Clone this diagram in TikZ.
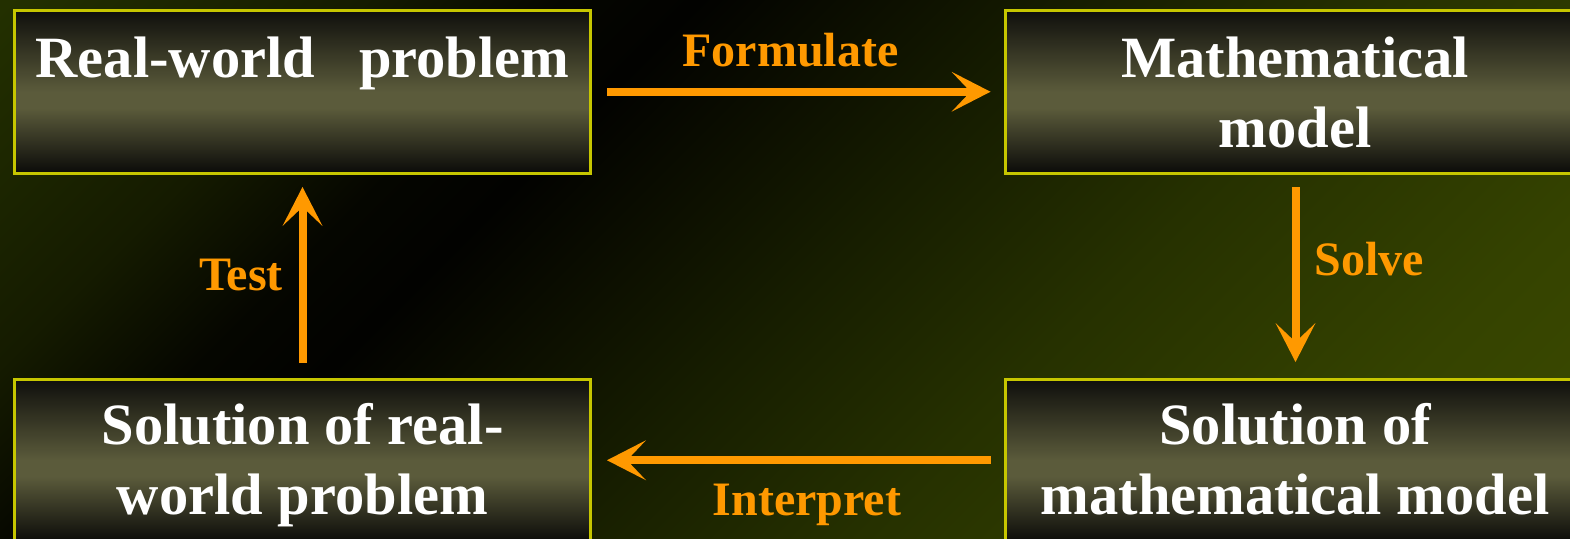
\documentclass[tikz,border=0pt]{standalone}
\usepackage{fontspec}
\setmainfont{Liberation Serif}
\usetikzlibrary{arrows.meta}

% backdrop colours, along the top-left to bottom-right diagonal
\definecolor{bgA}{HTML}{233000}
\definecolor{bgB}{HTML}{151B00}
\definecolor{bgC}{HTML}{050600}
\definecolor{bgK}{HTML}{020200}
\definecolor{bgD}{HTML}{0D1000}
\definecolor{bgE}{HTML}{171E00}
\definecolor{bgF}{HTML}{263100}
\definecolor{bgG}{HTML}{354300}
\definecolor{bgH}{HTML}{3C4B00}
% box fill and trim
\definecolor{boxT}{HTML}{0F0F0C}
\definecolor{boxM}{HTML}{5B5B3B}
\definecolor{boxB}{HTML}{0B0B09}
\definecolor{rim}{HTML}{C6C600}
\definecolor{amber}{HTML}{FF9900}

\pgfdeclarehorizontalshading{backdrop}{100bp}{%
  color(0bp)=(bgA); color(26.3bp)=(bgA); color(34.4bp)=(bgB);
  color(38.9bp)=(bgC); color(42bp)=(bgK); color(46.5bp)=(bgD);
  color(51bp)=(bgE); color(57.8bp)=(bgF); color(66.8bp)=(bgG);
  color(73.7bp)=(bgH); color(100bp)=(bgH)}
\pgfdeclareverticalshading{boxfill}{100bp}{%
  color(0bp)=(boxB); color(25bp)=(boxB); color(45bp)=(boxM);
  color(50bp)=(boxM); color(75bp)=(boxT); color(100bp)=(boxT)}

\begin{document}
\begin{tikzpicture}[x=1pt,y=-1pt,
  box/.style={shade, shading=boxfill, draw=rim, line width=3pt,
    inner sep=0pt, outer sep=0pt, minimum height=162.5pt},
  boxtext/.style={text=white, font=\fontsize{58.5}{70.5}\selectfont\bfseries,
    align=center, inner sep=0pt, anchor=north},
  tag/.style={text=amber, font=\fontsize{48}{56}\selectfont\bfseries,
    inner sep=0pt, anchor=base},
  flow/.style={draw=amber, line width=8pt,
    -{Stealth[length=39pt,width=40pt,inset=19pt,line width=0pt]}}]

\useasboundingbox (0,0) rectangle (1570,538);
\clip (0,0) rectangle (1570,538);

% diagonal backdrop: a square so the 45 degree shading stays undistorted
\shade[shading=backdrop, shading angle=-45] (0,-516) rectangle (1570,1054);

% the four stages
\node[box, minimum width=576pt] (rw)  at (302.5,91.75)  {};
\node[box, minimum width=580pt] (mm)  at (1295.5,91.75) {};
\node[box, minimum width=576pt] (srw) at (302.5,460.25) {};
\node[box, minimum width=580pt] (smm) at (1295.5,460.25){};

\node[boxtext] (rwt)  at (302.5,29)  {\rule{0pt}{48pt}Real-world\hspace{44pt}problem};
\node[boxtext] (mmt)  at (1295,29)   {\rule{0pt}{48pt}Mathematical\\model};
\node[boxtext] (srwt) at (302.5,396) {\rule{0pt}{48pt}Solution of real-\\world problem};
\node[boxtext] (smmt) at (1295,396)  {\rule{0pt}{48pt}Solution of\\mathematical model};

% connectors between the stages
\draw[flow] ([xshift=16.5pt]rw.east) -- ([xshift=-15pt]mm.west);
\draw[flow] ([yshift=-14pt]mm.south) -- ([yshift=17pt]smm.north);
\draw[flow] ([xshift=-15pt]smm.west) -- ([xshift=16.5pt]srw.east);
\draw[flow] ([yshift=16pt]srw.north) -- ([yshift=-14pt]rw.south);

% step labels
\node[tag] (lf) at (790.5,66.7) {Formulate};
\node[tag] (ls) at (1369,275)   {Solve};
\node[tag] (li) at (807,515)    {Interpret};
\node[tag] (lt) at (241,290)    {Test};
\end{tikzpicture}
\end{document}
